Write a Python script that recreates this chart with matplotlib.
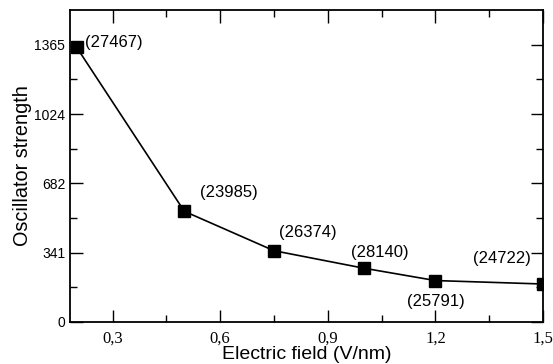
import matplotlib
matplotlib.use("Agg")
import matplotlib.pyplot as plt
from matplotlib.ticker import FixedLocator, FuncFormatter

# data
field = [0.2, 0.5, 0.75, 1.0, 1.2, 1.5]
strength = [1352, 545, 351, 265, 204, 187]
labels = ["(27467)", "(23985)", "(26374)", "(28140)", "(25791)", "(24722)"]
# label offsets in points (dx, dy) relative to each marker
offsets = [(5.8, 3.4), (11.5, 13.7), (3.6, 13), (11.5, 11.5), (0, -15), (-29.5, 18.7)]
aligns = ["left", "left", "left", "center", "center", "center"]

ystep = 1024 / 3
yticks = [ystep * k for k in range(5)]
xticks = [0.3, 0.6, 0.9, 1.2, 1.5]

fig = plt.figure(figsize=(5.53, 3.64), dpi=100)
ax = fig.add_axes([0.1257, 0.1154, 0.8563, 0.8571])

ax.plot(field, strength, color="black", lw=1.2, marker="s", ms=8.5,
        markerfacecolor="black", markeredgecolor="black")

for x, y, t, (dx, dy), ha in zip(field, strength, labels, offsets, aligns):
    ax.annotate(t, (x, y), xytext=(dx, dy), textcoords="offset points",
                ha=ha, va="center", fontsize=12, family="Liberation Sans")

ax.set_xlim(0.18, 1.5)
ax.set_ylim(0, ystep * 4.5)

ax.xaxis.set_major_locator(FixedLocator(xticks))
ax.xaxis.set_minor_locator(FixedLocator([0.45, 0.75, 1.05, 1.35]))
ax.yaxis.set_major_locator(FixedLocator(yticks))
ax.yaxis.set_minor_locator(FixedLocator([ystep * (k + 0.5) for k in range(4)]))

ax.xaxis.set_major_formatter(FuncFormatter(lambda v, p: f"{v:.1f}".replace(".", ",")))
ax.yaxis.set_major_formatter(FuncFormatter(lambda v, p: f"{int(v)}"))

ax.tick_params(which="both", direction="in", top=True, right=True, width=1.0, color="black")
ax.tick_params(which="major", length=9)
ax.tick_params(which="minor", length=5)
ax.tick_params(axis="x", which="major", pad=6)
ax.tick_params(axis="y", which="major", pad=3)

for lab in ax.get_xticklabels():
    lab.set_family("Liberation Serif")
    lab.set_fontsize(12)
for lab in ax.get_yticklabels():
    lab.set_family("Liberation Sans")
    lab.set_fontsize(10)

for s in ax.spines.values():
    s.set_linewidth(1.3)

ax.set_xlabel("Electric field (V/nm)", fontsize=14, family="Liberation Sans", labelpad=-0.5)
ax.set_ylabel("Oscillator strength", fontsize=14.3, family="Liberation Sans", labelpad=2)

fig.savefig("out.png", dpi=100)
